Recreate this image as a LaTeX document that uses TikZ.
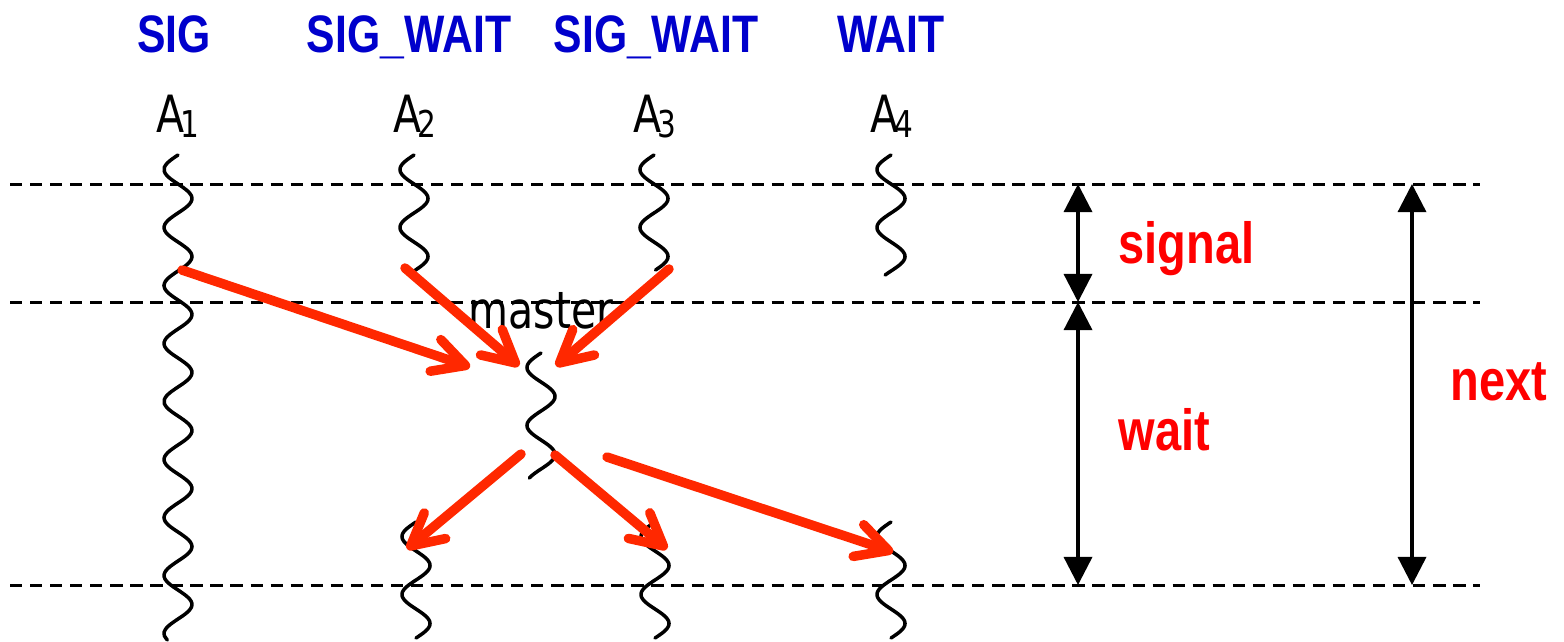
\documentclass[tikz,border=0pt]{standalone}
\usepackage{fontspec}
\setmainfont{Liberation Sans}[FakeStretch=0.81]
\newfontfamily\threadfont{DejaVu Sans}[FakeStretch=0.8]
\usetikzlibrary{arrows.meta}
\definecolor{sigblue}{RGB}{0,0,204}
\definecolor{phasered}{RGB}{255,0,0}
\definecolor{msgred}{RGB}{255,40,0}
\newcommand{\idx}[1]{\kern-1.2pt\raisebox{-1.6pt}{\fontsize{10.5}{11}\selectfont #1}}

\begin{document}
\begin{tikzpicture}[
  x=0.01cm, y=-0.01cm,
  kind/.style={anchor=base, inner sep=0pt, text=sigblue,
               font=\fontsize{15}{16}\selectfont\bfseries},
  agent/.style={anchor=base, inner sep=0pt, font=\threadfont\fontsize{14.6}{16}\selectfont},
  phase/.style={anchor=base west, inner sep=0pt, text=phasered,
                font=\fontsize{16.5}{18}\selectfont\bfseries},
  thread/.style={line width=1pt, line cap=round},
  sync/.style={dashed, dash pattern=on 3.5pt off 2.2pt, line width=0.85pt},
  msg/.style={draw=msgred, line width=2.7pt, line cap=round,
              -{Straight Barb[length=9pt, width=9.5pt, round]}},
  span/.style={line width=0.95pt, {Triangle[length=8pt, width=8pt]}-{Triangle[length=8pt, width=8pt]}},
]
\useasboundingbox (0,0) rectangle (1564,641);

%% Barrier kinds and agents
\node[kind] (k1) at (174,52) {SIG};
\node[kind] (k2) at (409,52) {SIG\_WAIT};
\node[kind] (k3) at (656,52) {SIG\_WAIT};
\node[kind] (k4) at (891,52) {WAIT};
\node[agent] (a1) at (178,132) {A\idx{1}};
\node[agent] (a2) at (415,132) {A\idx{2}};
\node[agent] (a3) at (655,132) {A\idx{3}};
\node[agent] (a4) at (892,132) {A\idx{4}};
\node[agent] (master) at (541,328) {master};

%% Phase boundaries
\coordinate (top) at (10,184);
\coordinate (mid) at (10,302);
\coordinate (bot) at (10,585);
\draw[sync] (top) -- ++(1470,0);
\draw[sync] (mid) -- ++(1470,0);
\draw[sync] (bot) -- ++(1470,0);

%% Threads (centre / from / to)
\foreach \cx/\ta/\tb in {178/155/640, 414/155/272, 654/155/270, 891/155/275,
                         541/353/478, 416/522/638, 655/522/638, 891/522/638}
  \draw[thread] plot[domain=\ta:\tb, samples=120, smooth, variable=\t]
    ({\cx-14*sin(6.2069*(\t-\ta))}, \t);

%% Message end points
\coordinate (s1) at (182,270);
\coordinate (s2) at (405,268);
\coordinate (s3) at (669,269);
\coordinate (m1) at (470,367);
\coordinate (m2) at (519,366);
\coordinate (m3) at (556,366);
\coordinate (w2) at (521,454);
\coordinate (w3) at (555,455);
\coordinate (w4) at (607,457);
\coordinate (r2) at (407,549);
\coordinate (r3) at (667,549);
\coordinate (r4) at (893,552);

%% Signals to master, then release
\draw[msg] (s1) -- (m1);
\draw[msg] (s2) -- (m2);
\draw[msg] (s3) -- (m3);
\draw[msg] (w2) -- (r2);
\draw[msg] (w3) -- (r3);
\draw[msg] (w4) -- (r4);

%% Phase spans
\coordinate (sigtop) at (1078,184);
\coordinate (sigbot) at (1078,302);
\coordinate (waitbot) at (1078,585);
\coordinate (nexttop) at (1412,184);
\coordinate (nextbot) at (1412,585);
\draw[span] (sigtop) -- (sigbot);
\draw[span] (sigbot) -- (waitbot);
\draw[span] (nexttop) -- (nextbot);
\node[phase] (signal) at (1118,263) {signal};
\node[phase] (wait) at (1118,450) {wait};
\node[phase] (next) at (1450,400) {next};
\end{tikzpicture}
\end{document}
